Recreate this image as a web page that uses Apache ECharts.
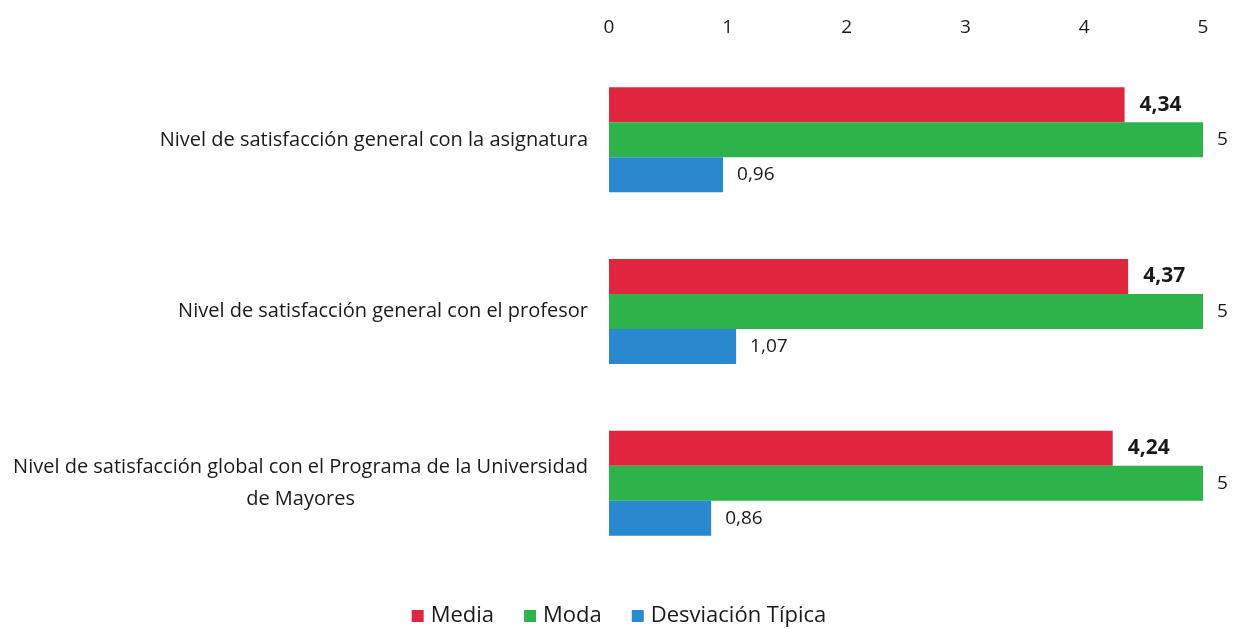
<!DOCTYPE html>
<html>
<head>
<meta charset="utf-8">
<script src="https://cdn.jsdelivr.net/npm/echarts@6/dist/echarts.min.js"></script>
<style>html,body{margin:0;padding:0;background:#fff}#c{width:1238px;height:629px}</style>
</head>
<body>
<div id="c"></div>
<script>
const categories = [
  'Nivel de satisfacción general con la asignatura',
  'Nivel de satisfacción general con el profesor',
  'Nivel de satisfacción global con el Programa de la Universidad de Mayores'
];
const seriesNames = ['Media', 'Moda', 'Desviación Típica'];
const media = [4.34, 4.37, 4.24];
const moda = [5, 5, 5];
const desviacion = [0.96, 1.07, 0.86];
const xTicks = [0, 1, 2, 3, 4, 5];

function wrap(s, max) {
  const words = s.split(' ');
  const lines = [];
  let cur = '';
  words.forEach(w => {
    if (cur && (cur + ' ' + w).length > max) { lines.push(cur); cur = w; }
    else cur = cur ? cur + ' ' + w : w;
  });
  if (cur) lines.push(cur);
  return lines.join('\n');
}
const fmt = v => String(v).replace('.', ',');
const FONT = 'Open Sans';
const chart = echarts.init(document.getElementById('c'));
const colors = ['#E0263F', '#2DB34A', '#2A88CF'];
function mk(name, data, idx, bold) {
  return {
    name, type: 'bar', data, barWidth: 35, barGap: '0%',
    itemStyle: { color: colors[idx] },
    label: {
      show: true, position: 'right', distance: bold ? 15 : 14,
      formatter: p => fmt(p.value),
      fontFamily: FONT, fontSize: bold ? 21 : 19, color: '#1a1a1a',
      fontWeight: bold ? 'bold' : 'normal'
    }
  };
}
chart.setOption({
  animation: false,
  grid: { left: 609, right: 35, top: 54, bottom: 60, containLabel: false },
  legend: {
    top: 600, left: 'center', icon: 'rect', itemWidth: 12, itemHeight: 12, itemGap: 30,
    textStyle: { fontFamily: FONT, fontSize: 22, color: '#1a1a1a', padding: [0, 0, 0, 2] },
    data: seriesNames
  },
  xAxis: {
    type: 'value', position: 'top', min: xTicks[0], max: xTicks[xTicks.length - 1], interval: 1,
    axisLine: { show: false }, axisTick: { show: false }, splitLine: { show: false },
    axisLabel: { fontFamily: FONT, fontSize: 19, color: '#1a1a1a', margin: 17 }
  },
  yAxis: {
    type: 'category', inverse: true, data: categories,
    axisLine: { show: false }, axisTick: { show: false },
    axisLabel: {
      margin: 21,
      formatter: v => '{a|' + wrap(v, 62) + '}',
      rich: { a: { align: 'center', fontFamily: FONT, fontSize: 20, color: '#1a1a1a', lineHeight: 32 } }
    }
  },
  series: [
    mk(seriesNames[0], media, 0, true),
    mk(seriesNames[1], moda, 1, false),
    mk(seriesNames[2], desviacion, 2, false)
  ]
});
</script>
</body>
</html>
